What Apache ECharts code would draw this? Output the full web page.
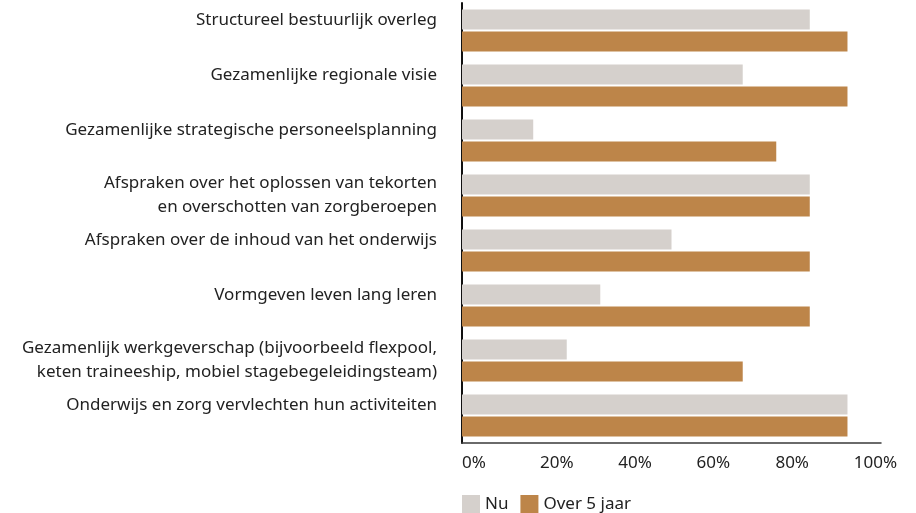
<!DOCTYPE html>
<html>
<head>
<meta charset="utf-8">
<script src="https://cdn.jsdelivr.net/npm/echarts@6/dist/echarts.min.js"></script>
<style>
  html, body { margin: 0; padding: 0; background: #fff; }
  #chart { width: 916px; height: 513px; }
</style>
</head>
<body>
<div id="chart"></div>
<script>
var categories = [
    'Structureel bestuurlijk overleg',
    'Gezamenlijke regionale visie',
    'Gezamenlijke strategische personeelsplanning',
    'Afspraken over het oplossen van tekorten\nen overschotten van zorgberoepen',
    'Afspraken over de inhoud van het onderwijs',
    'Vormgeven leven lang leren',
    'Gezamenlijk werkgeverschap (bijvoorbeeld flexpool,\nketen traineeship, mobiel stagebegeleidingsteam)',
    'Onderwijs en zorg vervlechten hun activiteiten'
];
var nuValues = [83, 67, 17, 83, 50, 33, 25, 92];
var over5Values = [92, 92, 75, 83, 83, 83, 67, 92];
var xTicks = [0, 20, 40, 60, 80, 100];

var font = 'Noto Sans';
var chart = echarts.init(document.getElementById('chart'));

// tick labels in the original are nudged a little off their ticks
var tickStyle = { fontSize: 17, color: '#222', fontFamily: font };
var tickRich = {
    t0: tickStyle,
    t20: Object.assign({ padding: [0, 0, 0, 22] }, tickStyle),
    t40: Object.assign({ padding: [0, 0, 0, 11] }, tickStyle),
    t60: tickStyle,
    t80: Object.assign({ padding: [0, 10, 0, 0] }, tickStyle),
    t100: Object.assign({ padding: [0, 11, 0, 0] }, tickStyle)
};

chart.setOption({
    animation: false,
    textStyle: { fontFamily: font },
    grid: { left: 462, right: 35, top: 3, bottom: 70 },
    legend: {
        left: 462,
        top: 495,
        padding: 0,
        itemWidth: 18,
        itemHeight: 18,
        itemGap: 12,
        icon: 'rect',
        textStyle: { fontSize: 17, color: '#222', fontFamily: font },
        data: ['Nu', 'Over 5 jaar']
    },
    xAxis: {
        type: 'value',
        min: 0,
        max: 100,
        interval: 20,
        splitLine: { show: false },
        axisTick: { show: false },
        axisLine: { show: true, lineStyle: { color: '#3a3a3a', width: 1.5 } },
        axisLabel: {
            margin: 12,
            fontSize: 17,
            color: '#222',
            alignMinLabel: 'left',
            formatter: function (v) {
                return xTicks.indexOf(v) >= 0 ? '{t' + v + '|' + v + '%}' : '';
            },
            rich: tickRich
        }
    },
    yAxis: {
        type: 'category',
        inverse: true,
        data: categories,
        axisTick: { show: false },
        axisLine: { show: true, lineStyle: { color: '#111', width: 2 } },
        axisLabel: {
            margin: 25,
            fontSize: 17,
            color: '#222',
            lineHeight: 24,
            formatter: function (v) {
                if (v.indexOf('\n') >= 0) return v;
                return '{s|' + v + '}';
            },
            rich: {
                s: { fontSize: 17, color: '#222', lineHeight: 24, padding: [0, 0, 20, 0], fontFamily: font }
            }
        }
    },
    series: [
        {
            name: 'Nu',
            type: 'bar',
            data: nuValues,
            barWidth: 20,
            barGap: '10%',
            itemStyle: { color: '#d5d0cc' }
        },
        {
            name: 'Over 5 jaar',
            type: 'bar',
            data: over5Values,
            barWidth: 20,
            barGap: '10%',
            itemStyle: { color: '#bd8549' }
        }
    ]
});
</script>
</body>
</html>
